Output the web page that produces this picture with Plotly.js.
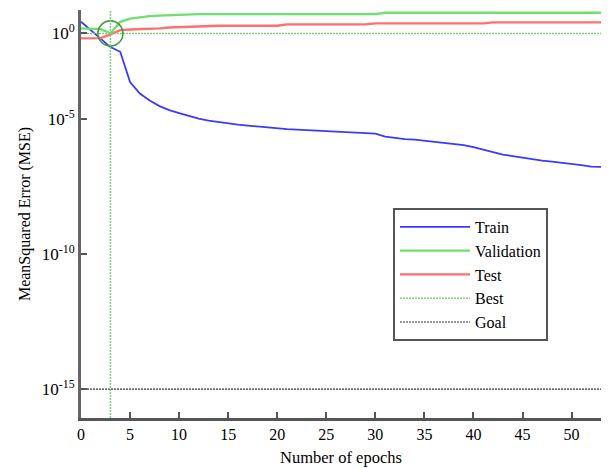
<!DOCTYPE html>
<html>
<head>
<meta charset="utf-8">
<script src="https://cdn.plot.ly/plotly-3.0.1.min.js"></script>
<style>html,body{margin:0;padding:0;background:#fff;}#chart{width:610px;height:468px;}</style>
</head>
<body>
<div id="chart"></div>
<script>
// ---- data ----
const epochs = Array.from({length: 54}, (_, i) => i);

const trainMSE = [4.02e-2, 1.98e-2, 9.57e-3, 4.65e-3, 3.11e-3, 2.34e-4, 8.79e-5, 4.84e-5, 3.03e-5, 2.15e-5,
  1.67e-5, 1.29e-5, 1.04e-5, 8.79e-6, 7.74e-6, 6.81e-6, 6.25e-6, 5.74e-6, 5.27e-6, 4.84e-6,
  4.45e-6, 4.27e-6, 4.08e-6, 3.92e-6, 3.75e-6, 3.60e-6, 3.50e-6, 3.41e-6, 3.30e-6, 3.16e-6,
  2.90e-6, 2.25e-6, 1.98e-6, 1.82e-6, 1.74e-6, 1.60e-6, 1.47e-6, 1.35e-6, 1.24e-6, 1.09e-6,
  9.18e-7, 7.41e-7, 6.00e-7, 4.84e-7, 4.27e-7, 3.75e-7, 3.16e-7, 2.90e-7, 2.67e-7, 2.45e-7,
  2.25e-7, 1.98e-7, 1.74e-7, 1.71e-7];

const validationMSE = [2.28e-2, 2.28e-2, 2.15e-2, 1.49e-2, 4.02e-2, 5.27e-2, 6.00e-2, 6.53e-2, 6.81e-2, 7.11e-2,
  7.23e-2, 7.41e-2, 7.74e-2, 7.74e-2, 7.74e-2, 7.74e-2, 7.74e-2, 7.74e-2, 7.74e-2, 7.74e-2,
  7.74e-2, 7.74e-2, 7.74e-2, 7.74e-2, 7.74e-2, 7.74e-2, 7.74e-2, 7.74e-2, 7.74e-2, 7.74e-2,
  7.74e-2, 8.65e-2, 8.65e-2, 8.65e-2, 8.65e-2, 8.65e-2, 8.65e-2, 8.65e-2, 8.65e-2, 8.65e-2,
  8.65e-2, 8.65e-2, 8.65e-2, 8.65e-2, 8.65e-2, 8.65e-2, 8.65e-2, 8.65e-2, 8.65e-2, 8.65e-2,
  8.65e-2, 8.65e-2, 8.65e-2, 8.65e-2];

const testMSE = [9.75e-3, 9.75e-3, 1.00e-2, 1.37e-2, 1.98e-2, 2.07e-2, 2.10e-2, 2.15e-2, 2.28e-2, 2.45e-2,
  2.55e-2, 2.62e-2, 2.78e-2, 2.86e-2, 2.86e-2, 2.86e-2, 2.86e-2, 2.86e-2, 2.86e-2, 2.86e-2,
  2.86e-2, 3.21e-2, 3.21e-2, 3.21e-2, 3.21e-2, 3.21e-2, 3.21e-2, 3.21e-2, 3.21e-2, 3.21e-2,
  3.50e-2, 3.50e-2, 3.50e-2, 3.50e-2, 3.50e-2, 3.50e-2, 3.50e-2, 3.50e-2, 3.50e-2, 3.50e-2,
  3.50e-2, 3.50e-2, 3.81e-2, 3.81e-2, 3.81e-2, 3.81e-2, 3.81e-2, 3.81e-2, 3.81e-2, 3.81e-2,
  3.81e-2, 3.81e-2, 3.81e-2, 3.81e-2];

const bestEpoch = 3;
const bestMSE = validationMSE[bestEpoch];
const goalMSE = 1e-15;

const xTickVals = [0, 5, 10, 15, 20, 25, 30, 35, 40, 45, 50];
const yTickVals = [1e-15, 1e-10, 1e-5, bestMSE];
const yTickText = ['10<sup>-15</sup>', '10<sup>-10</sup>', '10<sup>-5</sup>', '10<sup>0</sup>'];

const lastEpoch = epochs[epochs.length - 1];
const serif = 'Liberation Serif, Times New Roman, serif';

const traces = [
  {x: epochs, y: trainMSE, name: 'Train', mode: 'lines', line: {color: '#3a3aff', width: 1.8}},
  {x: epochs, y: validationMSE, name: 'Validation', mode: 'lines', line: {color: '#6ee06e', width: 2.4}},
  {x: epochs, y: testMSE, name: 'Test', mode: 'lines', line: {color: '#ff6f6f', width: 2.4}},
  {x: [0, lastEpoch], y: [bestMSE, bestMSE], name: 'Best', mode: 'lines', line: {color: '#7fcf7f', width: 1.5, dash: '2px,1px'}},
  {x: [0, lastEpoch], y: [goalMSE, goalMSE], name: 'Goal', mode: 'lines', line: {color: '#333333', width: 1.2, dash: '2px,1px'}},
  {x: [bestEpoch], y: [bestMSE], mode: 'markers', showlegend: false, hoverinfo: 'skip',
   marker: {symbol: 'circle-open', size: 25, color: '#3f9f3f', line: {width: 1.6, color: '#3f9f3f'}}}
];

const layout = {
  width: 610, height: 468,
  margin: {l: 81, r: 9, t: 10, b: 50},
  paper_bgcolor: '#fff', plot_bgcolor: '#fff',
  font: {family: serif, size: 16, color: '#000'},
  showlegend: true,
  legend: {
    x: 0.6, y: 0.515, xanchor: 'left', yanchor: 'top',
    bgcolor: '#fff', bordercolor: '#555', borderwidth: 2,
    font: {family: serif, size: 16, color: '#000'},
    itemwidth: 70
  },
  xaxis: {
    range: [0, lastEpoch], tickvals: xTickVals,
    showgrid: false, zeroline: false, showline: true, linecolor: '#555', linewidth: 3,
    ticks: 'inside', ticklen: 6, tickcolor: '#555', tickwidth: 2,
    tickfont: {family: serif, size: 16},
    title: {text: 'Number of epochs', font: {family: serif, size: 16.5}, standoff: 10}
  },
  yaxis: {
    type: 'log', range: [-16.07, -0.96],
    tickvals: yTickVals, ticktext: yTickText,
    showgrid: false, zeroline: false, showline: true, linecolor: '#666', linewidth: 3,
    ticks: 'inside', ticklen: 6, tickcolor: '#555', tickwidth: 2,
    tickfont: {family: serif, size: 17},
    title: {text: 'MeanSquared Error (MSE)', font: {family: serif, size: 16}, standoff: 8}
  },
  shapes: [
    {type: 'line', xref: 'x', yref: 'paper', x0: bestEpoch, x1: bestEpoch, y0: 0, y1: 1,
     line: {color: '#7fcf7f', width: 1.5, dash: '2px,1px'}}
  ]
};

Plotly.newPlot('chart', traces, layout, {displayModeBar: false, staticPlot: true});
</script>
</body>
</html>
